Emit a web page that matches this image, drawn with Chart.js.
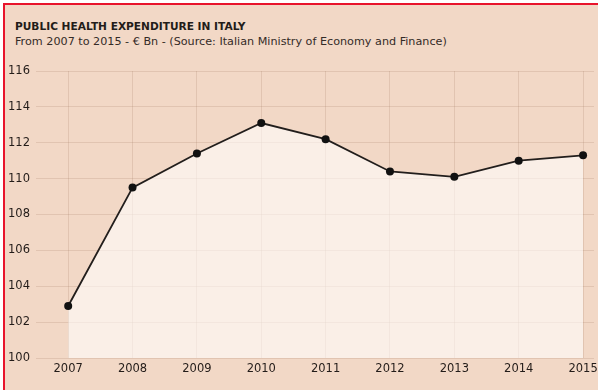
<!DOCTYPE html>
<html>
<head>
<meta charset="utf-8">
<script src="https://cdn.jsdelivr.net/npm/chart.js@4.4.1/dist/chart.umd.min.js"></script>
<style>
  body { margin: 0; width: 598px; height: 390px; overflow: hidden; position: relative; background: #fff; font-family: "DejaVu Sans", sans-serif; }
  .frame { position: absolute; left: 3px; top: 3px; right: 0; bottom: 0; border-top: 2px solid #e8142c; border-left: 2px solid #e8142c; background: #f2d8c6; }
  .title { position: absolute; left: 15px; top: 20px; font-size: 10.6px; line-height: 12px; font-weight: bold; color: #231c19; white-space: nowrap; }
  .sub { position: absolute; left: 15px; top: 35px; font-size: 11.2px; line-height: 14px; color: #342b27; white-space: nowrap; }
  #chart { position: absolute; left: 5px; top: 55px; }
</style>
</head>
<body>
<div class="frame"></div>
<div class="title">PUBLIC HEALTH EXPENDITURE IN ITALY</div>
<div class="sub">From 2007 to 2015 - € Bn - (Source: Italian Ministry of Economy and Finance)</div>
<canvas id="chart" width="593" height="335"></canvas>
<script>
const years = [2007, 2008, 2009, 2010, 2011, 2012, 2013, 2014, 2015]
const spending = [102.9, 109.5, 111.4, 113.1, 112.2, 110.4, 110.1, 111.0, 111.3]
const yMin = 100
const yMax = 116
const yStep = 2

const tickFont = { family: 'DejaVu Sans', size: 11.5 }
const gridColor = 'rgba(140, 100, 80, 0.17)'

const ctx = document.getElementById('chart').getContext('2d')
const chart = new Chart(ctx, {
    type: 'line',
    data: {
        datasets: [
            {
                data: years.map((y, i) => ({ x: y, y: spending[i] })),
                borderColor: '#221e1c',
                borderWidth: 1.8,
                pointRadius: 4,
                pointBackgroundColor: '#111',
                pointBorderWidth: 0,
                fill: 'start',
                backgroundColor: 'rgba(255, 255, 255, 0.58)',
                clip: false,
            }
        ]
    },
    options: {
        responsive: false,
        animation: false,
        layout: { padding: { top: 16, left: 0, right: 0, bottom: 0 } },
        plugins: {
            legend: { display: false },
            tooltip: { enabled: false },
        },
        scales: {
            x: {
                type: 'linear',
                min: 2006.5,
                max: 2015.17,
                afterBuildTicks: (s) => { s.ticks = years.map(v => ({ value: v })) },
                afterFit: (s) => { s.height = 32; s.paddingLeft = 0; s.paddingRight = 0 },
                ticks: { callback: (v) => String(v), font: tickFont, color: '#231c19', padding: 4, maxRotation: 0 },
                grid: { color: gridColor, drawTicks: false },
                border: { display: false },
            },
            y: {
                min: yMin,
                max: yMax,
                afterFit: (s) => { s.width = 31; s.paddingTop = 0; s.paddingBottom = 0 },
                ticks: { stepSize: yStep, font: tickFont, color: '#231c19', padding: 6 },
                grid: { color: gridColor, drawTicks: false },
                border: { display: false },
            }
        }
    }
})
</script>
</body>
</html>
